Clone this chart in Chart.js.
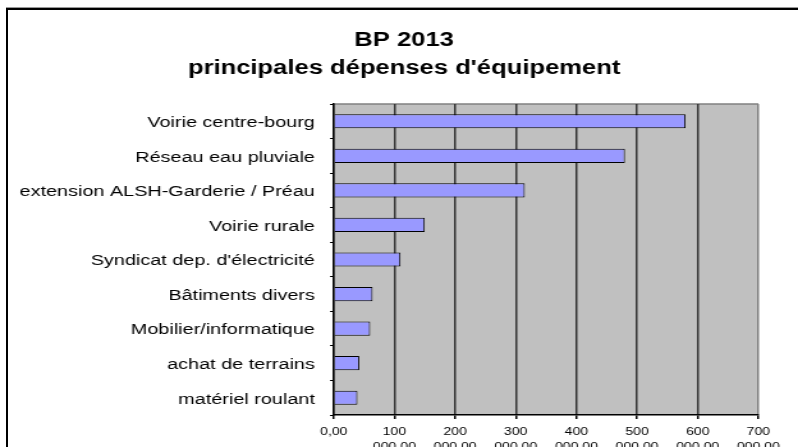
<!DOCTYPE html>
<html><head><meta charset="utf-8">
<script src="https://cdn.jsdelivr.net/npm/chart.js@4/dist/chart.umd.min.js"></script>
<style>
html,body{margin:0;padding:0;background:#fff;overflow:hidden;width:798px;height:447px;}
#frame{position:absolute;left:6px;top:8px;width:1000px;height:1000px;border-left:2px solid #000;border-top:2px solid #000;box-shadow:0 -1px 0 #999;}
#wrap{position:absolute;left:0;top:0;width:624px;height:447px;transform:scaleX(1.27885);transform-origin:0 0;}
</style></head><body>
<div id="frame"></div>
<div id="wrap"><canvas id="c" width="624" height="447"></canvas></div>
<script>
const titleLines = ['BP 2013', "principales dépenses d'équipement"];
const categories = [
  'Voirie centre-bourg',
  'Réseau eau pluviale',
  'extension ALSH-Garderie / Préau',
  'Voirie rurale',
  "Syndicat dep. d'électricité",
  'Bâtiments divers',
  'Mobilier/informatique',
  'achat de terrains',
  'matériel roulant'
];
const values = [580000, 480000, 315000, 150000, 110000, 64000, 60000, 42000, 39000];
const tickLabels = ['0,00', '100 000,00', '200 000,00', '300 000,00', '400 000,00', '500 000,00', '600 000,00', '700 000,00'];

const FONT = "'Liberation Sans', Arial, sans-serif";

const bgPlugin = {
  id: 'bg',
  beforeDraw(chart) {
    const {ctx, chartArea: a} = chart;
    ctx.save();
    ctx.fillStyle = '#C0C0C0';
    ctx.fillRect(a.left, a.top, a.right - a.left, a.bottom - a.top);
    ctx.strokeStyle = '#808080';
    ctx.lineWidth = 1.5;
    ctx.beginPath();
    ctx.moveTo(a.left, a.top);
    ctx.lineTo(a.right, a.top);
    ctx.stroke();
    ctx.restore();
  }
};

new Chart(document.getElementById('c'), {
  type: 'bar',
  data: {
    labels: categories,
    datasets: [{
      data: values,
      backgroundColor: '#9999FF',
      borderColor: '#000',
      borderWidth: 1,
      barPercentage: 0.41,
      categoryPercentage: 1
    }]
  },
  options: {
    indexAxis: 'y',
    responsive: false,
    animation: false,
    devicePixelRatio: 1,
    layout: {padding: {left: 8, right: 0, top: 0, bottom: 0}},
    plugins: {
      legend: {display: false},
      tooltip: {enabled: false},
      title: {
        display: true,
        text: titleLines,
        color: '#000',
        font: {family: FONT, size: 20, weight: 'bold', lineHeight: 28 / 20},
        padding: {top: 26, bottom: 22}
      }
    },
    scales: {
      x: {
        type: 'linear',
        min: 0,
        max: 700000,
        position: 'bottom',
        ticks: {
          stepSize: 100000,
          color: '#000',
          font: {family: FONT, size: 11, lineHeight: 15 / 11},
          padding: 5,
          maxRotation: 0,
          autoSkip: false,
          callback: (v, i) => tickLabels[i].split(' ')
        },
        grid: {
          color: (c) => c.index === 7 ? '#808080' : '#333',
          lineWidth: 1.5,
          tickLength: 4,
          tickColor: '#000'
        },
        border: {display: true, color: '#000', width: 1.5},
        afterFit: (s) => { s.height = 32; s.paddingRight = 31; }
      },
      y: {
        ticks: {color: '#000', font: {family: FONT, size: 15.5}, padding: 11.8, labelOffset: 1.5},
        grid: {drawOnChartArea: false, tickLength: 3, tickColor: '#000', offset: true, lineWidth: 1},
        border: {color: '#000', width: 1.5},
        afterFit: (s) => { s.width = 253; }
      }
    }
  },
  plugins: [bgPlugin]
});
</script>
</body></html>
